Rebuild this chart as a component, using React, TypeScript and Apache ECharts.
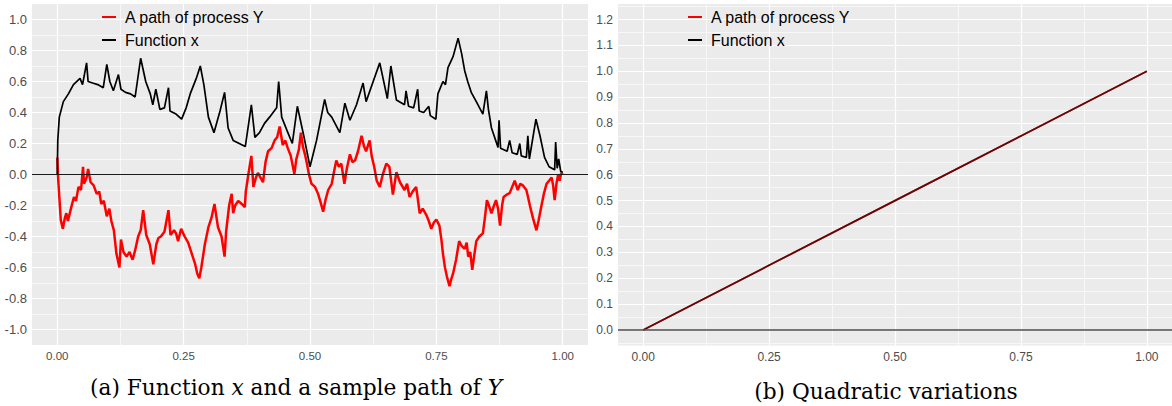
import React, { useEffect, useRef } from "react";
import * as echarts from "echarts";

// ---- Panel (a): sample path of Y (red) and function x (black) ----
const pathY: [number, number][] = [
  [0, 0.11], [0.002, -0.04], [0.007, -0.295], [0.011, -0.35], [0.015, -0.28], [0.018, -0.25],
  [0.021, -0.3], [0.027, -0.22], [0.033, -0.145], [0.037, -0.17], [0.042, -0.08], [0.047, -0.1],
  [0.051, 0.05], [0.053, -0.06], [0.058, -0.02], [0.061, 0.035], [0.066, -0.05], [0.072, -0.07],
  [0.078, -0.125], [0.083, -0.11], [0.087, -0.19], [0.092, -0.17], [0.098, -0.27], [0.103, -0.22],
  [0.107, -0.3], [0.112, -0.36], [0.117, -0.51], [0.123, -0.6], [0.126, -0.42], [0.131, -0.5],
  [0.137, -0.53], [0.143, -0.5], [0.149, -0.55], [0.154, -0.49], [0.16, -0.4], [0.165, -0.36],
  [0.17, -0.23], [0.176, -0.39], [0.183, -0.45], [0.19, -0.58], [0.196, -0.45], [0.2, -0.41],
  [0.205, -0.4], [0.212, -0.37], [0.22, -0.23], [0.224, -0.39], [0.231, -0.36], [0.235, -0.38],
  [0.239, -0.43], [0.245, -0.35], [0.252, -0.4], [0.259, -0.44], [0.268, -0.53], [0.273, -0.58],
  [0.277, -0.64], [0.281, -0.67], [0.285, -0.6], [0.292, -0.45], [0.299, -0.34], [0.305, -0.28],
  [0.311, -0.19], [0.318, -0.34], [0.325, -0.4], [0.331, -0.53], [0.334, -0.37], [0.34, -0.2],
  [0.345, -0.125], [0.348, -0.25], [0.352, -0.2], [0.358, -0.17], [0.365, -0.19], [0.371, -0.21],
  [0.373, -0.11], [0.378, 0.0], [0.384, 0.12], [0.388, -0.08], [0.393, -0.02], [0.397, 0.01],
  [0.402, -0.02], [0.407, -0.05], [0.412, 0.08], [0.417, 0.15], [0.424, 0.17], [0.43, 0.22],
  [0.435, 0.24], [0.44, 0.31], [0.446, 0.19], [0.451, 0.22], [0.456, 0.17], [0.462, 0.12],
  [0.469, 0.005], [0.473, 0.1], [0.478, 0.16], [0.482, 0.27], [0.486, 0.18], [0.49, 0.13],
  [0.494, 0.07], [0.498, 0.0], [0.503, -0.06], [0.51, -0.08], [0.516, -0.125], [0.521, -0.18],
  [0.526, -0.24], [0.531, -0.16], [0.536, -0.1], [0.543, -0.06], [0.547, 0.01], [0.552, 0.09],
  [0.557, 0.05], [0.562, 0.07], [0.568, -0.06], [0.573, 0.04], [0.579, 0.13], [0.584, 0.08],
  [0.589, 0.09], [0.595, 0.15], [0.602, 0.25], [0.607, 0.18], [0.611, 0.15], [0.618, 0.22],
  [0.622, 0.12], [0.627, 0.05], [0.632, -0.04], [0.638, -0.08], [0.644, 0.0], [0.651, 0.07],
  [0.657, 0.05], [0.664, -0.13], [0.671, 0.015], [0.678, -0.05], [0.687, -0.1], [0.692, -0.06],
  [0.697, -0.145], [0.703, -0.11], [0.71, -0.08], [0.713, -0.15], [0.717, -0.25], [0.723, -0.22],
  [0.73, -0.26], [0.735, -0.3], [0.74, -0.35], [0.745, -0.31], [0.75, -0.29], [0.756, -0.33],
  [0.76, -0.42], [0.763, -0.51], [0.767, -0.6], [0.771, -0.66], [0.776, -0.72], [0.779, -0.68],
  [0.783, -0.64], [0.789, -0.55], [0.795, -0.43], [0.8, -0.46], [0.806, -0.48], [0.81, -0.44],
  [0.813, -0.53], [0.817, -0.5], [0.821, -0.615], [0.825, -0.52], [0.829, -0.43], [0.835, -0.4],
  [0.842, -0.38], [0.846, -0.28], [0.85, -0.165], [0.855, -0.21], [0.859, -0.25], [0.864, -0.2],
  [0.868, -0.165], [0.872, -0.22], [0.876, -0.33], [0.88, -0.2], [0.883, -0.145], [0.889, -0.13],
  [0.895, -0.12], [0.9, -0.08], [0.905, -0.04], [0.911, -0.1], [0.916, -0.06], [0.921, -0.07],
  [0.928, -0.1], [0.931, -0.14], [0.935, -0.2], [0.941, -0.28], [0.948, -0.36], [0.952, -0.3],
  [0.958, -0.2], [0.963, -0.12], [0.968, -0.06], [0.973, -0.04], [0.978, -0.02], [0.981, -0.07],
  [0.984, -0.165], [0.988, -0.05], [0.991, 0.0], [0.994, -0.04], [0.997, 0.01], [1.0, 0.0],
];

const funcX: [number, number][] = [
  [0, 0.0], [0.001, 0.22], [0.004, 0.37], [0.012, 0.47], [0.022, 0.52], [0.032, 0.58],
  [0.045, 0.62], [0.05, 0.58], [0.058, 0.72], [0.061, 0.6], [0.07, 0.59], [0.08, 0.58],
  [0.091, 0.56], [0.098, 0.71], [0.104, 0.6], [0.111, 0.54], [0.121, 0.645], [0.126, 0.55],
  [0.135, 0.53], [0.145, 0.52], [0.154, 0.5], [0.165, 0.75], [0.175, 0.6], [0.184, 0.52],
  [0.189, 0.45], [0.195, 0.55], [0.203, 0.42], [0.212, 0.43], [0.22, 0.56], [0.223, 0.41],
  [0.235, 0.39], [0.246, 0.357], [0.255, 0.43], [0.263, 0.52], [0.275, 0.62], [0.283, 0.7],
  [0.29, 0.58], [0.299, 0.37], [0.31, 0.27], [0.322, 0.41], [0.331, 0.53], [0.338, 0.3],
  [0.348, 0.22], [0.36, 0.2], [0.372, 0.18], [0.384, 0.45], [0.391, 0.24], [0.4, 0.27],
  [0.41, 0.33], [0.42, 0.37], [0.434, 0.43], [0.438, 0.6], [0.444, 0.37], [0.455, 0.28],
  [0.465, 0.2], [0.475, 0.44], [0.487, 0.26], [0.5, 0.05], [0.513, 0.22], [0.529, 0.485],
  [0.535, 0.4], [0.543, 0.37], [0.559, 0.27], [0.569, 0.46], [0.579, 0.35], [0.592, 0.45],
  [0.605, 0.59], [0.611, 0.47], [0.625, 0.6], [0.638, 0.72], [0.653, 0.49], [0.66, 0.7],
  [0.671, 0.48], [0.687, 0.45], [0.69, 0.54], [0.695, 0.44], [0.705, 0.43], [0.713, 0.55],
  [0.716, 0.41], [0.725, 0.4], [0.735, 0.44], [0.738, 0.38], [0.749, 0.357], [0.753, 0.52],
  [0.763, 0.6], [0.768, 0.58], [0.773, 0.69], [0.783, 0.76], [0.793, 0.88], [0.8, 0.78],
  [0.806, 0.67], [0.812, 0.6], [0.819, 0.53], [0.829, 0.47], [0.842, 0.39], [0.849, 0.54],
  [0.853, 0.42], [0.859, 0.3], [0.872, 0.175], [0.874, 0.35], [0.877, 0.17], [0.89, 0.15],
  [0.895, 0.22], [0.9, 0.14], [0.91, 0.13], [0.915, 0.2], [0.918, 0.12], [0.928, 0.11],
  [0.931, 0.25], [0.934, 0.1], [0.947, 0.357], [0.955, 0.25], [0.964, 0.11], [0.973, 0.05],
  [0.984, 0.03], [0.986, 0.21], [0.989, 0.04], [0.992, 0.1], [0.996, 0.02], [1.0, 0.015],
];

// ---- Panel (b): quadratic variations ----
const qvY: [number, number][] = [[0, 0], [0.25, 0.25], [0.5, 0.5], [0.75, 0.75], [1, 1]];
const qvX: [number, number][] = [[0, 0], [0.25, 0.25], [0.5, 0.5], [0.75, 0.75], [1, 1]];

// ---- ticks and grid breaks ----
const xTicks = [0, 0.25, 0.5, 0.75, 1];
const xMinor = [0.125, 0.375, 0.625, 0.875];
const yTicksA = [-1, -0.8, -0.6, -0.4, -0.2, 0, 0.2, 0.4, 0.6, 0.8, 1];
const yMinorA = [-0.9, -0.7, -0.5, -0.3, -0.1, 0.1, 0.3, 0.5, 0.7, 0.9];
const yTicksB = [0, 0.1, 0.2, 0.3, 0.4, 0.5, 0.6, 0.7, 0.8, 0.9, 1, 1.1, 1.2];
const yMinorB = [-0.05, 0.05, 0.15, 0.25, 0.35, 0.45, 0.55, 0.65, 0.75, 0.85, 0.95, 1.05, 1.15, 1.25];

const NAME_Y = "A path of process Y";
const NAME_X = "Function x";

const X_RANGE: [number, number] = [-0.05, 1.05];
const Y_RANGE_A: [number, number] = [-1.1, 1.1];
const Y_RANGE_B: [number, number] = [-0.06, 1.26];

const FONT = "'Liberation Sans', Arial, sans-serif";
const SERIF = "'DejaVu Serif', 'Liberation Serif', serif";
const CAPTION_SIZE = 21.7;

function vLines(xs: number[], yr: [number, number]) {
  return xs.map((x) => ({ coords: [[x, yr[0]], [x, yr[1]]] }));
}
function hLines(ys: number[], xr: [number, number]) {
  return ys.map((y) => ({ coords: [[xr[0], y], [xr[1], y]] }));
}

function gridSeries(idx: number, yr: [number, number], yMaj: number[], yMin: number[]) {
  const base = {
    type: "lines",
    coordinateSystem: "cartesian2d",
    xAxisIndex: idx,
    yAxisIndex: idx,
    silent: true,
    z: 1,
    symbol: "none",
  };
  return [
    {
      ...base,
      data: [...vLines(xMinor, yr), ...hLines(yMin, X_RANGE)],
      lineStyle: { color: "#ffffff", width: 0.6, opacity: 1 },
    },
    {
      ...base,
      data: [...vLines(xTicks, yr), ...hLines(yMaj, X_RANGE)],
      lineStyle: { color: "#ffffff", width: 1.2, opacity: 1 },
    },
  ];
}

function xAxisCfg(idx: number, fontSize: number) {
  return {
    type: "value",
    gridIndex: idx,
    min: X_RANGE[0],
    max: X_RANGE[1],
    axisLine: { show: false },
    splitLine: { show: false },
    axisTick: { show: true, customValues: xTicks, length: 3, lineStyle: { color: "#333333", width: 1 } },
    axisLabel: {
      customValues: xTicks,
      formatter: (v: number) => v.toFixed(2),
      color: "#4D4D4D",
      fontSize,
      fontFamily: FONT,
      margin: 5,
    },
  };
}

function yAxisCfg(idx: number, yr: [number, number], ticks: number[], fontSize: number) {
  return {
    type: "value",
    gridIndex: idx,
    min: yr[0],
    max: yr[1],
    axisLine: { show: false },
    splitLine: { show: false },
    axisTick: { show: true, customValues: ticks, length: 3, lineStyle: { color: "#333333", width: 1 } },
    axisLabel: {
      customValues: ticks,
      formatter: (v: number) => v.toFixed(1),
      color: "#4D4D4D",
      fontSize,
      fontFamily: FONT,
      margin: 5,
    },
  };
}

function legendCfg(left: number) {
  return {
    left,
    top: 3,
    orient: "vertical",
    data: [NAME_Y, NAME_X],
    icon: "rect",
    itemWidth: 14,
    itemHeight: 2,
    itemGap: 5,
    selectedMode: false,
    textStyle: { fontSize: 16, color: "#000", fontFamily: FONT, lineHeight: 18, padding: [0, 0, 0, 4] },
  };
}

export default function App() {
  const ref = useRef<HTMLDivElement>(null);
  useEffect(() => {
    if (!ref.current) return;
    const chart = echarts.init(ref.current, undefined, { renderer: "svg" });
    const option: any = {
      animation: false,
      backgroundColor: "#ffffff",
      grid: [
        { left: 32, top: 4, width: 556, height: 341, show: true, backgroundColor: "#EBEBEB", borderWidth: 0 },
        { left: 618, top: 4, width: 559, height: 341.5, show: true, backgroundColor: "#EBEBEB", borderWidth: 0 },
      ],
      xAxis: [xAxisCfg(0, 11.5), xAxisCfg(1, 12)],
      yAxis: [yAxisCfg(0, Y_RANGE_A, yTicksA, 13), yAxisCfg(1, Y_RANGE_B, yTicksB, 12)],
      legend: [legendCfg(97), legendCfg(683)],
      series: [
        ...gridSeries(0, Y_RANGE_A, yTicksA, yMinorA),
        ...gridSeries(1, Y_RANGE_B, yTicksB, yMinorB),
        {
          name: NAME_Y,
          type: "line",
          xAxisIndex: 0,
          yAxisIndex: 0,
          data: pathY,
          showSymbol: false,
          symbol: "none",
          color: "#FF0000",
          lineStyle: { color: "#FF0000", width: 2.5, join: "bevel" },
          z: 3,
        },
        {
          name: NAME_X,
          type: "line",
          xAxisIndex: 0,
          yAxisIndex: 0,
          data: funcX,
          showSymbol: false,
          symbol: "none",
          color: "#000000",
          lineStyle: { color: "#000000", width: 1.7, join: "bevel" },
          z: 3,
        },
        {
          name: NAME_X,
          type: "line",
          xAxisIndex: 1,
          yAxisIndex: 1,
          data: qvX,
          showSymbol: false,
          symbol: "none",
          color: "#000000",
          lineStyle: { color: "#000000", width: 1.8 },
          z: 3,
        },
        {
          name: NAME_Y,
          type: "line",
          xAxisIndex: 1,
          yAxisIndex: 1,
          data: qvY,
          showSymbol: false,
          symbol: "none",
          color: "#FF0000",
          lineStyle: { color: "#FF0000", width: 1.8, opacity: 0.45 },
          z: 3,
        },
        {
          type: "lines",
          coordinateSystem: "cartesian2d",
          xAxisIndex: 0,
          yAxisIndex: 0,
          silent: true,
          z: 4,
          data: [{ coords: [[X_RANGE[0], 0], [X_RANGE[1], 0]] }],
          lineStyle: { color: "#1a1a1a", width: 1, opacity: 1 },
        },
        {
          type: "lines",
          coordinateSystem: "cartesian2d",
          xAxisIndex: 1,
          yAxisIndex: 1,
          silent: true,
          z: 4,
          data: [{ coords: [[X_RANGE[0], 0], [X_RANGE[1], 0]] }],
          lineStyle: { color: "#4d4d4d", width: 1.5, opacity: 1 },
        },
      ],
      graphic: [
        {
          type: "text",
          x: 296,
          y: 387,
          style: {
            text: "{n|(a) Function }{i|x}{n| and a sample path of }{i|Y}",
            align: "center",
            verticalAlign: "middle",
            textAlign: "center",
            textVerticalAlign: "middle",
            rich: {
              n: { fontFamily: SERIF, fontSize: CAPTION_SIZE, fill: "#000", color: "#000" },
              i: { fontFamily: SERIF, fontSize: CAPTION_SIZE, fontStyle: "italic", fill: "#000", color: "#000" },
            },
          },
        },
        {
          type: "text",
          x: 886,
          y: 391,
          style: {
            text: "(b) Quadratic variations",
            font: CAPTION_SIZE + "px " + SERIF,
            fill: "#000",
            align: "center",
            verticalAlign: "middle",
            textAlign: "center",
            textVerticalAlign: "middle",
          },
        },
      ],
    };
    chart.setOption(option);
    return () => chart.dispose();
  }, []);
  return (
    <div
      ref={ref}
      style={{ position: "fixed", left: 0, top: 0, width: 1172, height: 406, background: "#fff" }}
    />
  );
}
